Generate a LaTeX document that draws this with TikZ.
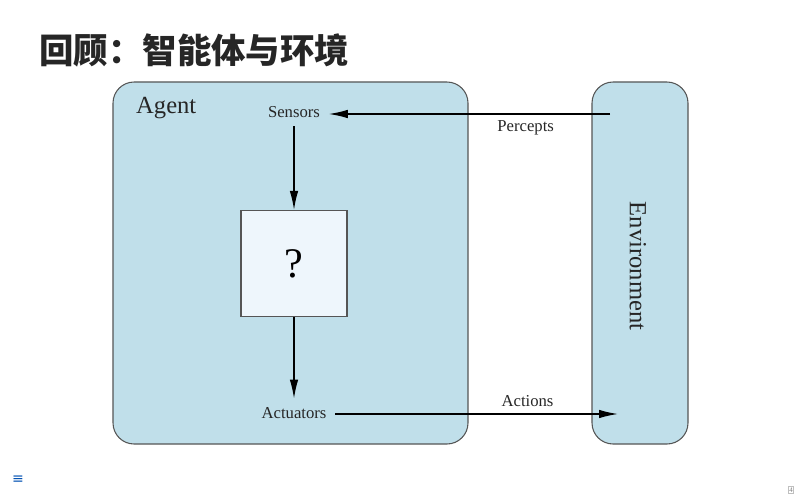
\documentclass[tikz,border=0pt]{standalone}
\usepackage{fontspec}
\setmainfont{Liberation Serif}
\newfontfamily\cjk{Noto Sans CJK SC}
\newfontfamily\symfont{DejaVu Sans}
\usetikzlibrary{positioning,arrows.meta}

\definecolor{boxblue}{HTML}{C0DFEA}
\definecolor{qblue}{HTML}{EEF6FC}
\definecolor{edgegray}{HTML}{555555}

\tikzset{
  region/.style={draw=edgegray, fill=boxblue, rounded corners=12pt, line width=0.6pt},
  lbl/.style={font=\fontsize{9.5}{11}\selectfont, text=black!85, inner sep=1pt, outer sep=4pt},
  flow/.style={line width=0.8pt, -{Latex[length=3.8mm,width=1.7mm]}}
}

\begin{document}
\begin{tikzpicture}[x=0.02cm, y=-0.02cm]
            \useasboundingbox (0,0) rectangle (800,500);

            % Title
            \node[anchor=west, inner sep=0pt, text=black!85] (title) at (39,50)
              {\cjk\bfseries\fontsize{19.6}{22}\selectfont 回顾：智能体与环境};

            % Agent and environment
            \node[region, minimum width=355*0.02cm, minimum height=362*0.02cm] (agent) at (290.5,263) {};
            \node[region, minimum width=96*0.02cm, minimum height=362*0.02cm] (env) at (640,263) {};
            \node[anchor=west, font=\fontsize{14}{16}\selectfont, text=black!85] (agentlbl) at (130,108) {Agent};
            \node[rotate=-90, font=\fontsize{14}{16}\selectfont, text=black!85] (envlbl) at (638,266) {Environment};

            % Inside the agent
            \node[lbl] (sensors) at (294,112) {Sensors};
            \node[draw=edgegray, fill=qblue, minimum size=106*0.02cm, line width=0.6pt,
                  font=\fontsize{24}{26}\selectfont] (q) at (294,263.5) {?};
            \node[lbl] (actuators) at (294,413) {Actuators};
            \draw[flow] (sensors) -- (q);
            \draw[flow] (q) -- (actuators);

            % Percepts and actions
            \coordinate (pout) at (610,114);
            \coordinate (ain) at (618,414);
            \draw[flow] (pout) -- (sensors.east |- pout) node[pos=0.3, below=3pt, lbl, outer sep=0pt] (percepts) {Percepts};
            \draw[flow] (actuators.east |- ain) -- (ain) node[pos=0.68, above=3pt, lbl, outer sep=0pt] (actions) {Actions};

            % Page marks
            \node[text=blue!55!cyan!70!black, font=\symfont\fontsize{8}{8}\selectfont] (menu) at (18,480) {≡};
            \node[text=gray, font=\fontsize{4}{4}\selectfont, draw=gray!50, inner sep=0.5pt] (page) at (791,490) {4};
        \end{tikzpicture}
\end{document}
